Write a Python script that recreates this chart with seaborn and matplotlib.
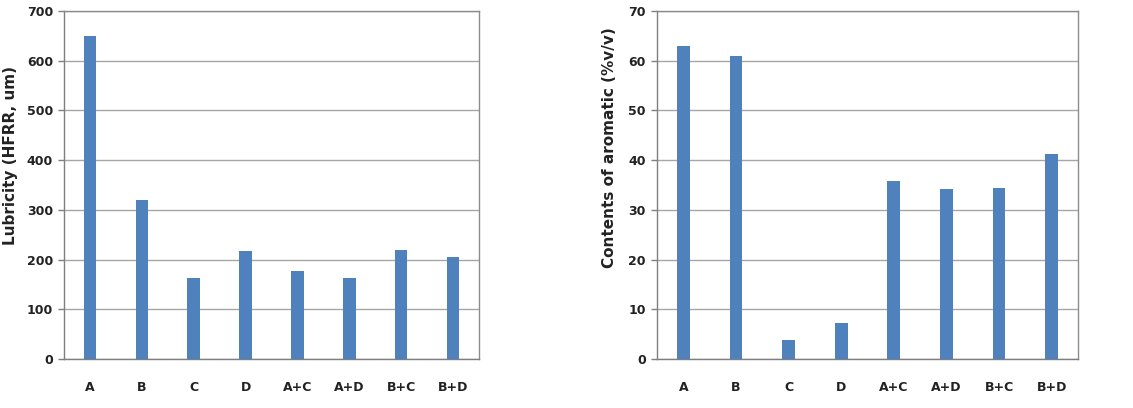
import matplotlib
matplotlib.use("Agg")
import matplotlib.pyplot as plt
import seaborn as sns
import pandas as pd

categories = ["A", "B", "C", "D", "A+C", "A+D", "B+C", "B+D"]
lubricity = [650, 320, 162, 218, 178, 163, 220, 205]
aromatic = [63.0, 61.0, 3.8, 7.3, 35.9, 34.1, 34.4, 41.3]

sns.set_theme(style="white")
plt.rcParams['font.family'] = ['DejaVu Sans']

bar_color = "#4F81BD"
fig = plt.figure(figsize=(11.33, 4.08), dpi=100)
W, H = 1133, 408
ax1 = fig.add_axes([64 / W, 1 - 359 / H, (479 - 64) / W, (359 - 11) / H])
ax2 = fig.add_axes([657 / W, 1 - 359 / H, (1078 - 657) / W, (359 - 11) / H])

df1 = pd.DataFrame({"cat": categories, "val": lubricity})
df2 = pd.DataFrame({"cat": categories, "val": aromatic})

specs = [
    (ax1, df1, 700, 100, "Lubricity (HFRR, um)", (-0.112, 0.585)),
    (ax2, df2, 70, 10, "Contents of aromatic (%v/v)", (-0.094, 0.608)),
]
for ax, df, ymax, step, label, lc in specs:
    sns.barplot(data=df, x="cat", y="val", color=bar_color, width=0.24,
                saturation=1, ax=ax, zorder=3, linewidth=0)
    ax.set_ylim(0, ymax)
    ax.set_xlim(-0.5, len(categories) - 0.5)
    ax.set_yticks(range(0, ymax + 1, step))
    ax.yaxis.grid(True, color="#a6a6a6", linewidth=1, zorder=0)
    ax.set_axisbelow(True)
    ax.set_xlabel("")
    ax.set_ylabel(label, fontsize=11, fontweight="bold", color="#222222")
    ax.yaxis.set_label_coords(*lc)
    for s in ax.spines.values():
        s.set_visible(True)
        s.set_color("#8c8c8c")
        s.set_linewidth(1)
    ax.spines["bottom"].set_color("#7f7f7f")
    ax.spines["left"].set_color("#7f7f7f")
    ax.tick_params(axis="y", length=4, width=1, color="#7f7f7f", labelsize=9,
                   pad=4, left=True, labelcolor="#222222")
    ax.tick_params(axis="x", length=0, labelsize=9, pad=16, labelcolor="#222222")
    for t in ax.get_xticklabels() + ax.get_yticklabels():
        t.set_fontweight("bold")

fig.savefig("out.png", dpi=100)
